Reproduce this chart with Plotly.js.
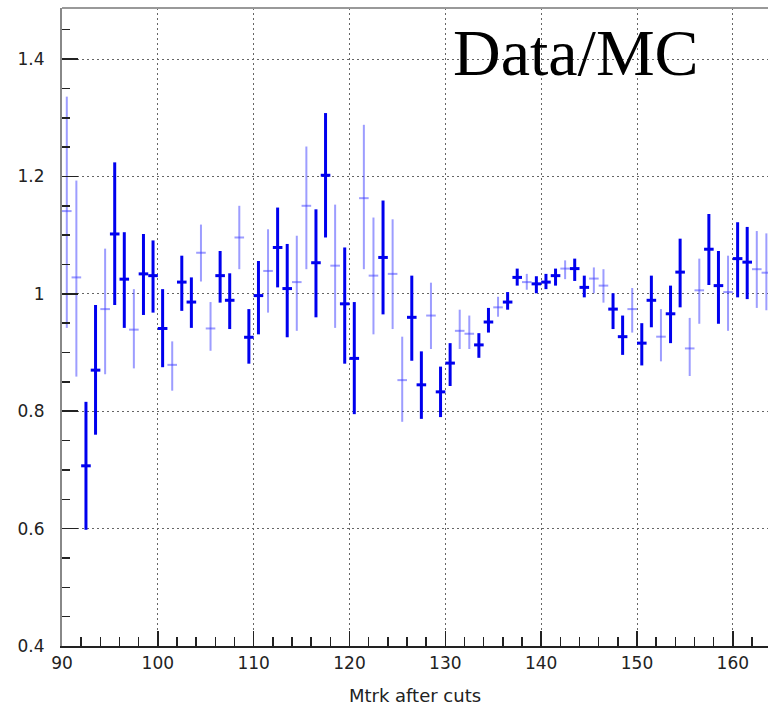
<!DOCTYPE html>
<html>
<head>
<meta charset="utf-8">
<script src="https://cdn.plot.ly/plotly-3.0.1.min.js"></script>
<style>html,body{margin:0;padding:0;background:#fff;}#chart{width:768px;height:706px;}</style>
</head>
<body>
<div id="chart"></div>
<script>
// Dark (thick) series
const darkX = [92.5,93.5,95.5,96.5,98.5,99.5,100.5,102.5,103.5,106.5,107.5,109.5,110.5,112.5,113.5,116.5,117.5,119.5,120.5,123.5,126.5,127.5,129.5,130.5,133.5,134.5,136.5,137.5,139.5,140.5,141.5,143.5,144.5,147.5,148.5,150.5,151.5,153.5,154.5,157.5,158.5,160.5,161.5];
const darkY = [0.707,0.870,1.102,1.025,1.034,1.031,0.941,1.020,0.986,1.031,0.989,0.926,0.997,1.079,1.009,1.053,1.202,0.983,0.890,1.062,0.960,0.845,0.833,0.882,0.913,0.952,0.986,1.028,1.017,1.020,1.031,1.043,1.011,0.974,0.927,0.916,0.989,0.966,1.037,1.076,1.014,1.060,1.054];
const darkUp = [0.109,0.111,0.122,0.080,0.068,0.060,0.067,0.045,0.042,0.042,0.046,0.048,0.059,0.068,0.076,0.091,0.106,0.096,0.096,0.097,0.071,0.057,0.043,0.034,0.020,0.024,0.017,0.015,0.013,0.014,0.012,0.017,0.020,0.027,0.036,0.034,0.042,0.048,0.057,0.060,0.059,0.062,0.060];
const darkDown = [0.109,0.110,0.121,0.083,0.070,0.063,0.066,0.049,0.044,0.046,0.049,0.045,0.066,0.068,0.083,0.093,0.106,0.102,0.095,0.097,0.074,0.058,0.043,0.039,0.022,0.018,0.013,0.014,0.016,0.012,0.017,0.021,0.017,0.034,0.031,0.038,0.046,0.050,0.060,0.061,0.065,0.066,0.063];

// Light (thin) series
const lightX = [90.5,91.5,94.5,97.5,101.5,104.5,105.5,108.5,111.5,114.5,115.5,118.5,121.5,122.5,124.5,125.5,128.5,131.5,132.5,135.5,138.5,142.5,145.5,146.5,149.5,152.5,155.5,156.5,159.5,162.5,163.5];
const lightY = [1.141,1.028,0.974,0.939,0.879,1.070,0.941,1.096,1.039,1.020,1.150,1.048,1.163,1.031,1.034,0.853,0.963,0.937,0.932,0.977,1.020,1.043,1.026,1.014,0.974,0.927,0.907,1.006,1.003,1.042,1.036];
const lightUp = [0.195,0.165,0.103,0.069,0.040,0.048,0.045,0.054,0.071,0.079,0.101,0.104,0.125,0.099,0.093,0.074,0.056,0.036,0.031,0.018,0.014,0.014,0.019,0.028,0.036,0.047,0.052,0.054,0.062,0.065,0.067];
const lightDown = [0.199,0.169,0.111,0.066,0.044,0.049,0.038,0.054,0.071,0.083,0.108,0.106,0.121,0.100,0.094,0.071,0.057,0.031,0.026,0.016,0.013,0.018,0.025,0.029,0.040,0.042,0.047,0.057,0.066,0.066,0.064];

const binHalfWidth = 0.5;

function series(x, y, up, down, color, thick, name) {
  return {
    type: 'scatter', mode: 'markers', name: name,
    x: x, y: y,
    marker: {size: 1, color: color, opacity: 0},
    error_y: {type: 'data', symmetric: false, array: up, arrayminus: down, color: color, thickness: thick, width: 0},
    error_x: {type: 'constant', value: binHalfWidth, color: color, thickness: thick, width: 0},
    showlegend: false, hoverinfo: 'x+y'
  };
}

const data = [
  series(lightX, lightY, lightUp, lightDown, 'rgba(60,60,255,0.5)', 2, 'light'),
  series(darkX, darkY, darkUp, darkDown, '#0000ee', 3, 'dark')
];

const tickFont = {family: 'DejaVu Sans', size: 17, color: '#222'};

const layout = {
  width: 768, height: 706,
  margin: {l: 62, r: 0, t: 8, b: 60},
  paper_bgcolor: '#fff', plot_bgcolor: '#fff',
  font: {family: 'DejaVu Sans', color: '#222'},
  xaxis: {
    range: [90, 163.67], tick0: 90, dtick: 10,
    ticks: 'inside', ticklen: 15, tickwidth: 1.5, tickcolor: '#222',
    showline: true, linecolor: '#222', linewidth: 2,
    showgrid: true, gridcolor: '#666', gridwidth: 1, griddash: '2px,3px',
    zeroline: false,
    minor: {dtick: 2, ticks: 'inside', ticklen: 9, tickwidth: 1.5, tickcolor: '#222', showgrid: false},
    tickfont: tickFont, ticklabelstandoff: 1,
    title: {text: 'Mtrk after cuts', font: {family: 'DejaVu Sans', size: 18, color: '#222'}, standoff: 23},
    automargin: false
  },
  yaxis: {
    range: [0.4, 1.487], tick0: 0.4, dtick: 0.2,
    ticks: 'inside', ticklen: 16, tickwidth: 1.5, tickcolor: '#222',
    showline: true, linecolor: '#888', linewidth: 2,
    showgrid: true, gridcolor: '#666', gridwidth: 1, griddash: '2px,3px',
    zeroline: false,
    minor: {dtick: 0.05, ticks: 'inside', ticklen: 8, tickwidth: 1.5, tickcolor: '#222', showgrid: false},
    tickfont: tickFont, ticklabelstandoff: 12,
    automargin: false
  },
  shapes: [
    {type: 'line', xref: 'paper', yref: 'paper', x0: 0, x1: 1, y0: 1, y1: 1, line: {color: '#999', width: 2}}
  ],
  annotations: [
    {text: 'Data/MC', xref: 'paper', yref: 'paper', x: 0.728, y: 0.931, xanchor: 'center', yanchor: 'middle',
     showarrow: false, font: {family: 'Liberation Serif', size: 66, color: '#000'}}
  ]
};

Plotly.newPlot('chart', data, layout, {displayModeBar: false, staticPlot: true});
</script>
</body>
</html>
